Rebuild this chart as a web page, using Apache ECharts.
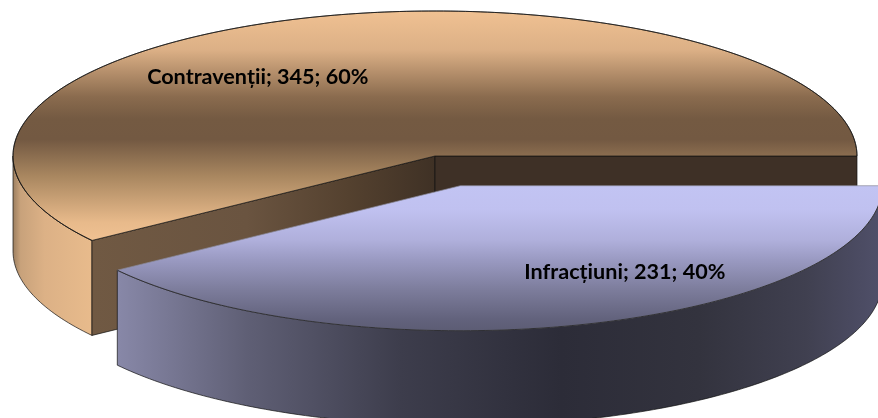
<!DOCTYPE html>
<html>
<head>
<meta charset="utf-8">
<style>
  html, body { margin: 0; padding: 0; background: #fff; }
  #chart { width: 878px; height: 418px; }
</style>
<script src="https://cdn.jsdelivr.net/npm/echarts@6/dist/echarts.min.js"></script>
</head>
<body>
<div id="chart"></div>
<script>
const categories = ['Contravenții', 'Infracțiuni'];
const values = [345, 231];
const percents = [60, 40];

const total = values.reduce((a, b) => a + b, 0);
// first slice ends at 3 o'clock, angles run clockwise
const startDeg = 360 - values[0] / total * 360;
const depth = 0.655;          // wall height in y axis units
const explode = [[0, 0], [0.06, -0.205]];
const labelPos = [[-0.42, 0.545], [0.45, -0.8]];

const vGrad = (stops) => new echarts.graphic.LinearGradient(0, 0, 0, 1, stops.map((s) => ({ offset: s[0], color: s[1] })));
const hGrad = (stops) => new echarts.graphic.LinearGradient(0, 0, 1, 0, stops.map((s) => ({ offset: s[0], color: s[1] })));

const sliceStyle = [
    {
        top: vGrad([[0, '#f0c192'], [0.17, '#dcb086'], [0.375, '#8a6b4e'], [0.47, '#745a42'], [0.56, '#735942'], [0.72, '#a98760'], [0.92, '#e8ba8b'], [1, '#f0c192']]),
        wall: hGrad([[0, '#9a7d5f'], [0.1, '#c8a27b'], [0.4, '#dcb186'], [1, '#e8bb8c']]),
        innerLeft: hGrad([[0, '#705943'], [0.45, '#6a5440'], [0.75, '#54412f'], [1, '#3f3125']]),
        innerRight: '#3e3026',
        cutStroke: '#111'
    },
    {
        top: vGrad([[0, '#c2c4f3'], [0.17, '#c0c1f0'], [0.38, '#afafdb'], [0.51, '#9a9ac2'], [0.72, '#7c7c9b'], [0.92, '#62627c'], [1, '#5c5c74']]),
        wall: hGrad([[0, '#8888a8'], [0.17, '#5f5f75'], [0.37, '#3d3d4c'], [0.58, '#2c2c38'], [0.76, '#33333e'], [0.9, '#404050'], [1, '#50506a']]),
        cutStroke: '#8a8a9a'
    }
];
const edge = { stroke: '#111', lineWidth: 0.7 };

const renderSlice = (params, api) => {
    const i = params.dataIndex;
    let from = startDeg;
    for (let k = 0; k < i; k++) from += values[k] / total * 360;
    const to = from + api.value(0) / total * 360;
    const dx = explode[i][0], dy = explode[i][1];
    const pt = (deg, drop) => {
        const t = deg * Math.PI / 180;
        return api.coord([Math.cos(t) + dx, -Math.sin(t) + dy - drop]);
    };
    const centre = (drop) => api.coord([dx, dy - drop]);
    const arc = (a, b, drop) => {
        const pts = [];
        const n = Math.max(2, Math.ceil(Math.abs(b - a)));
        for (let j = 0; j <= n; j++) pts.push(pt(a + (b - a) * j / n, drop));
        return pts;
    };
    const poly = (points, fill) => ({
        type: 'polygon',
        shape: { points },
        style: Object.assign({ fill }, edge)
    });
    const children = [];
    const st = sliceStyle[i];

    // front wall: only the part of the rim facing the viewer
    const ranges = [[from, to], [from - 360, to - 360], [from + 360, to + 360]];
    ranges.forEach((r) => {
        const a = Math.max(r[0], 0), b = Math.min(r[1], 180);
        if (b > a) children.push(poly(arc(a, b, 0).concat(arc(b, a, depth)), st.wall));
    });
    // cut faces behind the top
    if (st.innerLeft) {
        children.push(poly([centre(0), pt(from, 0), pt(from, depth), centre(depth)], st.innerLeft));
        children.push(poly([centre(0), pt(to, 0), pt(to, depth), centre(depth)], st.innerRight));
    }
    const top = poly([centre(0)].concat(arc(from, to, 0)), st.top);
    top.style.stroke = st.cutStroke;
    children.push(top);
    children.push({
        type: 'polyline',
        shape: { points: arc(from, to, 0) },
        style: Object.assign({ fill: 'none' }, edge)
    });

    const lp = api.coord([labelPos[i][0], labelPos[i][1]]);
    children.push({
        type: 'text',
        x: lp[0],
        y: lp[1],
        style: {
            text: categories[i] + '; ' + api.value(0) + '; ' + percents[i] + '%',
            fill: '#000',
            font: 'bold 21.6px Lato, "Open Sans", sans-serif',
            textAlign: 'center',
            textVerticalAlign: 'middle'
        }
    });
    return { type: 'group', children };
};

const chart = echarts.init(document.getElementById('chart'));
chart.setOption({
    animation: false,
    backgroundColor: '#fff',
    grid: { left: 13, top: 11, width: 844, height: 290 },
    xAxis: { type: 'value', min: -1, max: 1, show: false },
    yAxis: { type: 'value', min: -1, max: 1, show: false },
    series: [{
        type: 'custom',
        coordinateSystem: 'cartesian2d',
        renderItem: renderSlice,
        encode: { x: 0, y: 0 },
        data: values.map((v, i) => ({ name: categories[i], value: [v] })),
        silent: true
    }]
});
</script>
</body>
</html>
